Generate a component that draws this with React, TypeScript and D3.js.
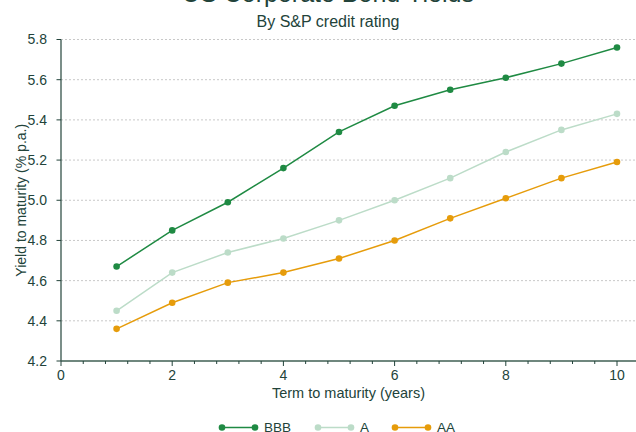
import React from "react";
import * as d3 from "d3";

const terms = [1, 2, 3, 4, 5, 6, 7, 8, 9, 10];
const bbb = [4.67, 4.85, 4.99, 5.16, 5.34, 5.47, 5.55, 5.61, 5.68, 5.76];
const a = [4.45, 4.64, 4.74, 4.81, 4.9, 5.0, 5.11, 5.24, 5.35, 5.43];
const aa = [4.36, 4.49, 4.59, 4.64, 4.71, 4.8, 4.91, 5.01, 5.11, 5.19];
const seriesNames = ["BBB", "A", "AA"];
const seriesColors = ["#1f8a43", "#bcdcc8", "#e69c0b"];
const yTicks = [4.2, 4.4, 4.6, 4.8, 5.0, 5.2, 5.4, 5.6, 5.8];
const xTicks = [0, 2, 4, 6, 8, 10];
const title = "US Corporate Bond Yields";
const subtitle = "By S&P credit rating";
const xTitle = "Term to maturity (years)";
const yTitle = "Yield to maturity (% p.a.)";

const W = 636;
const H = 432;
const left = 61;
const right = 636;
const top = 39.5;
const bottom = 361;
const textColor = "#22433a";
const font = "'Liberation Sans', Arial, sans-serif";

export default function App() {
  const x = d3.scaleLinear().domain([0, 10]).range([left, 617]);
  const y = d3.scaleLinear().domain([4.2, 5.8]).range([bottom, top]);
  const series = [bbb, a, aa];
  const line = d3
    .line<number>()
    .x((_, i) => x(terms[i]))
    .y((d) => y(d));
  const minor = d3.range(0, 10.01, 0.4).filter((t) => Math.abs(t / 2 - Math.round(t / 2)) > 1e-6);
  const legendX = [222, 318, 395];

  return (
    <svg
      width={W}
      height={H}
      style={{ position: "absolute", left: 0, top: 0, display: "block" }}
      fontFamily={font}
    >
      <rect width={W} height={H} fill="#ffffff" />
      <text x={328} y={2} textAnchor="middle" fontSize={25} fill={textColor}>
        {title}
      </text>
      <text x={328} y={26.5} textAnchor="middle" fontSize={16} fill={textColor}>
        {subtitle}
      </text>
      {yTicks.slice(1).map((t) => (
        <line
          key={"g" + t}
          x1={left}
          x2={right}
          y1={y(t)}
          y2={y(t)}
          stroke="#c8c8c8"
          strokeWidth={1}
          strokeDasharray="2,2"
        />
      ))}
      {yTicks.map((t) => (
        <g key={"y" + t}>
          <line x1={left - 4.5} x2={left} y1={y(t)} y2={y(t)} stroke={textColor} />
          <text
            x={47}
            y={y(t)}
            dy="0.35em"
            textAnchor="end"
            fontSize={14}
            fill={textColor}
          >
            {t.toFixed(1)}
          </text>
        </g>
      ))}
      <line x1={left} x2={left} y1={top} y2={bottom} stroke={textColor} strokeWidth={1.2} />
      <line x1={left} x2={right} y1={bottom} y2={bottom} stroke="#3f5f53" strokeWidth={1.5} />
      {minor.map((t) => (
        <line key={"m" + t} x1={x(t)} x2={x(t)} y1={bottom} y2={bottom + 3} stroke={textColor} />
      ))}
      {xTicks.map((t) => (
        <g key={"x" + t}>
          <line x1={x(t)} x2={x(t)} y1={bottom} y2={bottom + 5} stroke={textColor} />
          <text x={x(t)} y={379.5} textAnchor="middle" fontSize={14} fill={textColor}>
            {t}
          </text>
        </g>
      ))}
      <text x={(left + right) / 2} y={398} textAnchor="middle" fontSize={14.5} fill={textColor}>
        {xTitle}
      </text>
      <text
        transform={`translate(25.5, ${(top + bottom) / 2}) rotate(-90)`}
        textAnchor="middle"
        fontSize={14}
        fill={textColor}
      >
        {yTitle}
      </text>
      {series.map((s, si) => (
        <g key={"s" + si}>
          <path d={line(s) || ""} fill="none" stroke={seriesColors[si]} strokeWidth={1.5} />
          {s.map((v, i) => (
            <circle key={i} cx={x(terms[i])} cy={y(v)} r={3.3} fill={seriesColors[si]} />
          ))}
        </g>
      ))}
      {seriesNames.map((n, i) => (
        <g key={"l" + n}>
          <line
            x1={legendX[i]}
            x2={legendX[i] + 33}
            y1={427.5}
            y2={427.5}
            stroke={seriesColors[i]}
            strokeWidth={1.5}
          />
          <circle cx={legendX[i]} cy={427.5} r={3.3} fill={seriesColors[i]} />
          <circle cx={legendX[i] + 33} cy={427.5} r={3.3} fill={seriesColors[i]} />
          <text x={legendX[i] + 42} y={427.5} dy="0.35em" fontSize={13.5} fill={textColor}>
            {n}
          </text>
        </g>
      ))}
    </svg>
  );
}
